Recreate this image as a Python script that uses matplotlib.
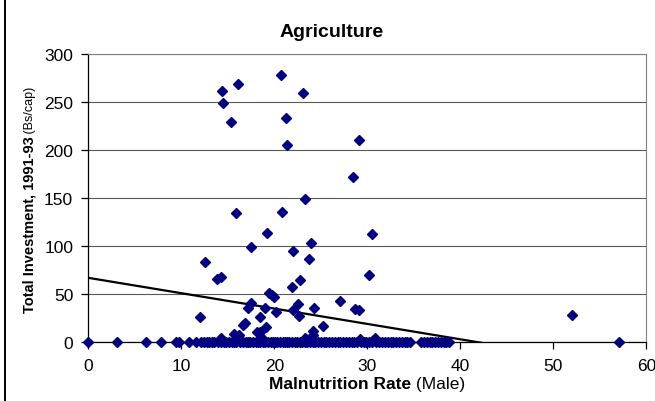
import matplotlib
matplotlib.use("Agg")
import matplotlib.pyplot as plt
from matplotlib.patches import Rectangle

plt.rcParams['font.family'] = ['Liberation Sans', 'DejaVu Sans']

# ---- data ----
pts_x = [14.4, 14.5, 16.1, 15.3, 20.7, 23.1, 21.2, 21.4, 29.1, 28.5,
         23.3, 15.9, 20.8, 19.2, 30.5, 23.9, 17.5, 22.0, 23.7, 12.5,
         30.2, 13.8, 14.2, 22.8, 21.9, 19.4, 19.7, 19.9, 17.5, 17.2,
         19.0, 20.2, 22.0, 22.5, 22.6, 24.3, 27.1, 28.7, 29.1, 12.0,
         18.4, 16.8, 16.6, 19.1, 18.1, 18.4, 24.1, 25.2, 15.7, 16.2,
         24.2, 52.0, 14.2, 18.7, 23.3, 29.2, 30.8, 24.1]
pts_y = [261, 249, 268, 229, 278, 259, 233, 205, 210, 172,
         149, 134, 135, 113, 112, 103, 99, 95, 86, 83,
         70, 65, 67, 64, 57, 51, 49, 47, 40, 35,
         35, 31, 33, 39, 27, 35, 42, 34, 33, 26,
         26, 19, 17, 15, 10, 10, 11, 16, 8, 7,
         7, 28, 4, 4, 4, 3, 4, 2]

zero_x = [0, 3.1, 6.2, 7.8, 9.4, 9.7, 10.8, 11.6, 12.1, 12.4, 12.7, 13.0,
          13.3, 13.5, 13.9, 14.3, 14.6, 14.8, 15.1, 15.4, 15.7, 15.9, 16.3,
          16.6, 16.9, 17.2, 17.4, 17.7, 18.0, 18.2, 18.5, 18.8, 19.0, 19.3,
          19.6, 19.8, 20.1, 20.3, 20.6, 20.9, 21.1, 21.4, 21.6, 21.9, 22.2,
          22.4, 22.7, 23.0, 23.3, 23.5, 23.8, 24.1, 24.4, 24.7, 25.0, 25.3,
          25.6, 25.9, 26.2, 26.5, 26.8, 27.1, 27.4, 27.7, 28.0, 28.3, 28.6,
          28.9, 29.3, 29.6, 29.9, 30.2, 30.5, 30.9, 31.2, 31.6, 31.9, 32.2,
          32.5, 32.8, 33.1, 33.4, 33.7, 34.0, 34.3, 34.6, 35.8, 36.1, 36.4,
          36.7, 37.0, 37.3, 37.6, 37.9, 38.2, 38.5, 38.8, 57.1]
zero_y = [0] * len(zero_x)

trend_intercept = 66.5
trend_slope = -1.6
trend_x = [0, 57.1]

x_ticks = [0, 10, 20, 30, 40, 50, 60]
y_ticks = [0, 50, 100, 150, 200, 250, 300]

title = "Agriculture"
xlabel_bold, xlabel_norm = "Malnutrition Rate", " (Male)"
ylabel_bold, ylabel_norm = "Total Investment, 1991-93", " (Bs/cap)"

# ---- figure ----
W, H = 655, 402
fig = plt.figure(figsize=(W / 100, H / 100), dpi=100)
ax = fig.add_axes([88.5 / W, 1 - 342.7 / H, (646.3 - 88.5) / W, (342.7 - 54.7) / H])

ax.set_xlim(0, 60)
ax.set_ylim(0, 300)
ax.set_xticks(x_ticks)
ax.set_yticks(y_ticks)
ax.yaxis.grid(True, color='#5a5a5a', lw=0.8)
ax.set_axisbelow(True)
for s in ['left', 'bottom']:
    ax.spines[s].set_color('black')
    ax.spines[s].set_linewidth(0.9)
for s in ['top', 'right']:
    ax.spines[s].set_color('#808080')
    ax.spines[s].set_linewidth(0.8)
ax.tick_params(axis='both', direction='out', length=5, width=0.9, labelsize=12.5, colors='black')
ax.tick_params(axis='x', pad=7)
ax.tick_params(axis='y', pad=6)

tx = [trend_x[0], trend_x[1]]
ty = [trend_intercept + trend_slope * v for v in tx]
ax.plot(tx, ty, color='black', lw=1.6, zorder=3)

mk = dict(linestyle='none', marker='D', ms=5.5, color='#000080', mec='#000080', clip_on=False, zorder=4)
ax.plot(zero_x, zero_y, **mk)
ax.plot(pts_x, pts_y, **mk)

fig.text(332 / W, 1 - 37 / H, title, ha='center', va='baseline', weight='bold', size=14)

# border of chart area
fig.add_artist(Rectangle((5 / W, -0.2), 2, 1.2 + 1 - 4.5 / H, transform=fig.transFigure,
                         fill=False, edgecolor='black', lw=1.4))

fig.canvas.draw()
r = fig.canvas.get_renderer()

# x label (mixed weights)
xb = fig.text(0, 1 - 389 / H, xlabel_bold, weight='bold', size=12.5, ha='left', va='baseline')
xn = fig.text(0, 1 - 389 / H, xlabel_norm, size=12.5, ha='left', va='baseline')
w1 = xb.get_window_extent(r).width
w2 = xn.get_window_extent(r).width
cx = (88.5 + 646.3) / 2
x0 = cx - (w1 + w2) / 2
xb.set_x(x0 / W)
xn.set_x((x0 + w1) / W)

# y label (mixed weights and sizes)
yb = fig.text(33 / W, 0, ylabel_bold, weight='bold', size=10.5, rotation=90,
              rotation_mode='anchor', ha='left', va='baseline')
yn = fig.text(33 / W, 0, ylabel_norm, size=9, rotation=90,
              rotation_mode='anchor', ha='left', va='baseline')
h1 = yb.get_window_extent(r).height
h2 = yn.get_window_extent(r).height
cy = H - 200
y0 = cy - (h1 + h2) / 2
yb.set_y(y0 / H)
yn.set_y((y0 + h1) / H)

fig.savefig("out.png", dpi=100)
